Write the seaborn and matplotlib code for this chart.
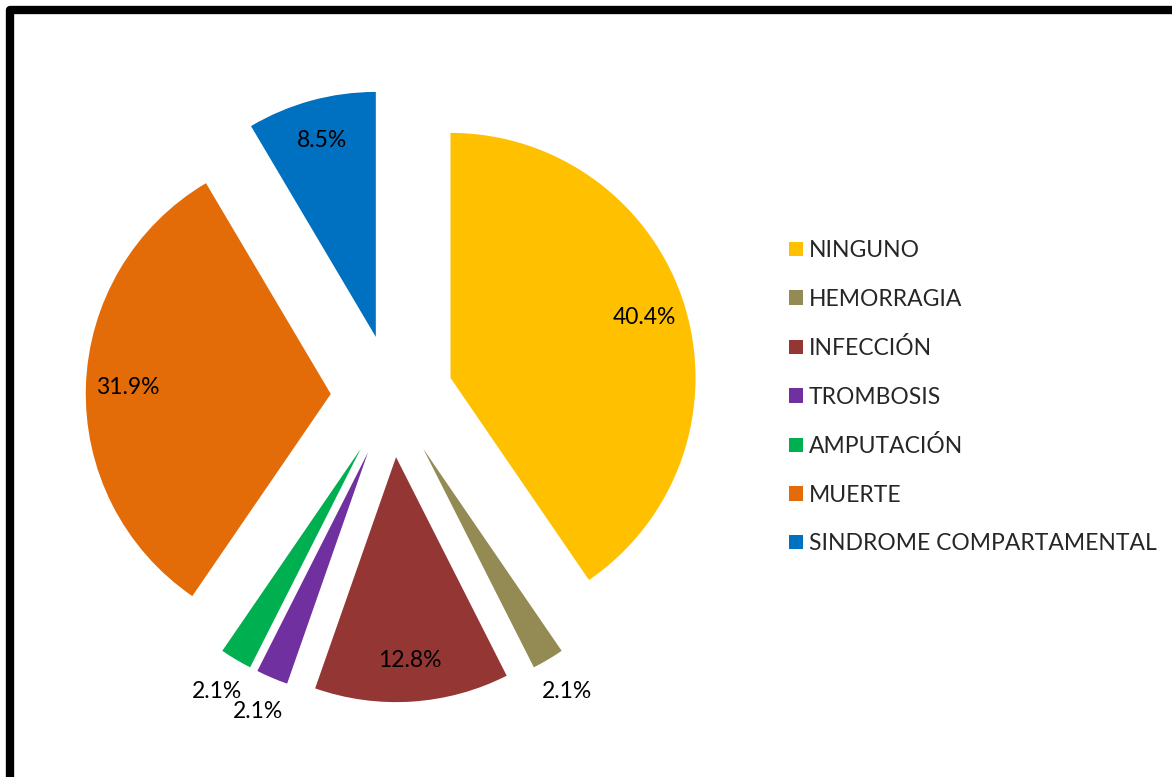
import numpy as np
import matplotlib
matplotlib.use("Agg")
import matplotlib.pyplot as plt
from matplotlib.patches import Patch, Rectangle
import seaborn as sns

# Complications data (percent of patients)
categories = ["NINGUNO", "HEMORRAGIA", "INFECCIÓN", "TROMBOSIS",
              "AMPUTACIÓN", "MUERTE", "SINDROME COMPARTAMENTAL"]
percentages = [40.4, 2.1, 12.8, 2.1, 2.1, 31.9, 8.5]
colors = ["#FFC000", "#948A54", "#943634", "#7030A0",
          "#00B050", "#E36C09", "#0070C0"]

sns.set_theme(style="white")
plt.rcParams["font.family"] = ["Lato", "DejaVu Sans"]

W, H = 1172, 777
fig = plt.figure(figsize=(W / 100, H / 100), dpi=100)
fig.patch.set_facecolor("white")

# Pie axes: center at (392, 396) px, radius 245 px
R_PX = 245
cx, cy = 392, H - 396
span = 1.5
side = 2 * span * R_PX
ax = fig.add_axes([(cx - side / 2) / W, (cy - side / 2) / H, side / W, side / H])

wedges, _ = ax.pie(percentages, colors=colors, startangle=90, counterclock=False,
                   explode=[0.25] * len(percentages), radius=1.0,
                   wedgeprops=dict(linewidth=0))
ax.set_xlim(-span, span)
ax.set_ylim(-span, span)
ax.set_aspect("equal")
ax.axis("off")

FS = 16.5

# Percentage labels: inside large slices, just outside small ones
for w, v in zip(wedges, percentages):
    mid = np.deg2rad((w.theta1 + w.theta2) / 2)
    dist = 0.83 if v > 5 else 1.15
    x = w.center[0] + dist * np.cos(mid)
    y = w.center[1] + dist * np.sin(mid)
    ax.text(x, y, f"{v:.1f}%", ha="center", va="center", fontsize=FS, color="black")

handles = [Patch(facecolor=c, edgecolor="none") for c in colors]
fig.legend(handles, categories, loc="center left",
           bbox_to_anchor=(789 / W, 1 - 397 / H), frameon=False,
           fontsize=FS, handlelength=0.62, handleheight=0.62,
           handletextpad=0.25, labelspacing=1.2, borderpad=0,
           borderaxespad=0)

# Outer black frame (top and left edges)
fig.add_artist(Rectangle((10 / W, -0.1), 1.2, (H - 10) / H + 0.1,
                         transform=fig.transFigure, fill=False,
                         edgecolor="black", linewidth=6, joinstyle="round"))

fig.savefig("out.png", dpi=100, facecolor="white")
